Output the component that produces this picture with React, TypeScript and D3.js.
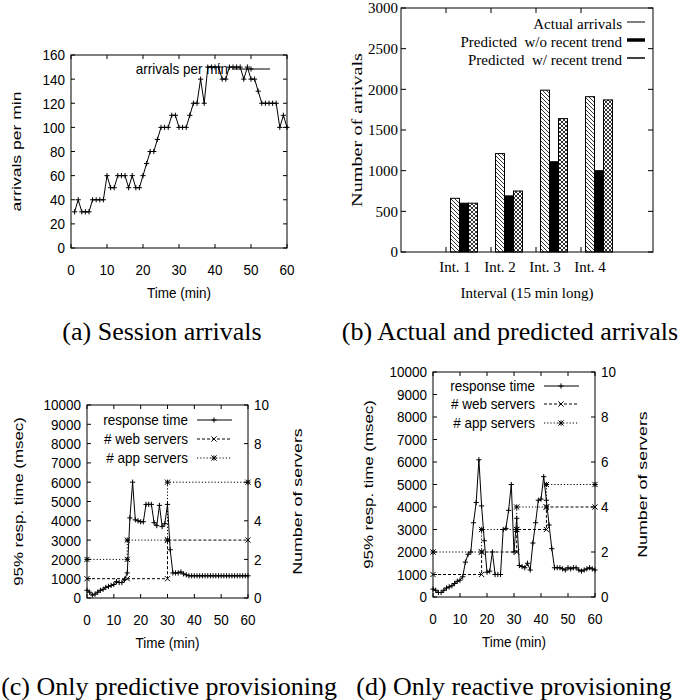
import { useEffect, useRef } from "react"
import * as d3 from "d3"

// (a) session arrivals, one value per minute (t = 1..60)
const arrivalsPerMin = [
  30, 40, 30, 30, 30, 40, 40, 40, 40, 60,
  50, 50, 60, 60, 60, 50, 60, 50, 50, 60,
  70, 80, 80, 90, 100, 100, 100, 110, 110, 100,
  100, 100, 110, 120, 120, 140, 120, 150, 150, 150,
  150, 140, 140, 150, 150, 150, 150, 140, 150, 140,
  140, 130, 120, 120, 120, 120, 120, 100, 110, 100,
]
const minuteTicks = [0, 10, 20, 30, 40, 50, 60]
const arrivalTicks = [0, 20, 40, 60, 80, 100, 120, 140, 160]

// (b) actual vs predicted arrivals per 15 min interval
const intervals = ["Int. 1", "Int. 2", "Int. 3", "Int. 4"]
const actualArrivals = [660, 1210, 1990, 1910]
const predictedNoTrend = [600, 690, 1110, 1000]
const predictedTrend = [600, 750, 1640, 1870]
const countTicks = [0, 500, 1000, 1500, 2000, 2500, 3000]
const barSeries = ["Actual arrivals", "Predicted  w/o recent trend", "Predicted  w/ recent trend"]

// (c) only predictive provisioning, response time per minute (t = 0..60)
const respPredictive = [
  400, 300, 150, 200, 300, 400, 450, 550, 600, 650, 700, 850, 800, 800, 950, 1300,
  4150, 6000, 4050, 4000, 3950, 3950, 4850, 4850, 4850, 3900, 3750, 4800, 3700, 3850, 4850, 2500,
  1300, 1300, 1300, 1350, 1250, 1200, 1150,
  1150, 1150, 1150, 1150, 1150, 1150, 1150, 1150, 1150, 1150, 1150,
  1150, 1150, 1150, 1150, 1150, 1150, 1150, 1150, 1150, 1150, 1150,
]
const webPredictive: [number, number][] = [[0, 1], [15, 1], [30, 1], [30, 3], [60, 3]]
const appPredictive: [number, number][] = [[0, 2], [15, 2], [15, 3], [30, 3], [30, 6], [60, 6]]

// (d) only reactive provisioning
const respReactive = [
  350, 300, 200, 200, 300, 400, 450, 500, 600, 700, 750, 900, 1550, 1900, 2000, 3300, 4200, 6100, 4050,
  2500, 1100, 1150, 2000, 1000, 1000, 1000, 3000, 3050, 3850, 5000, 2000,
  3500, 1400, 1350, 1300, 1500, 1200, 2400, 3300, 4300, 4350, 5350, 4300, 3200, 2150, 1300,
  1300, 1300, 1250, 1200, 1300, 1250, 1300, 1300, 1200, 1150, 1200, 1250, 1300, 1250, 1200,
]
const webReactive: [number, number][] = [[0, 1], [18, 1], [18, 2], [31, 2], [31, 3], [42, 3], [42, 4], [60, 4]]
const appReactive: [number, number][] = [[0, 2], [18, 2], [18, 3], [31, 3], [31, 4], [42, 4], [42, 5], [60, 5]]

const respTicks = [0, 1000, 2000, 3000, 4000, 5000, 6000, 7000, 8000, 9000, 10000]
const serverTicks = [0, 2, 4, 6, 8, 10]
const legendC = ["response time", "# web servers", "# app servers"]

const SANS = "'Liberation Sans', Arial, Helvetica, sans-serif"
const SERIF = "'Liberation Serif', 'Times New Roman', serif"

type G = d3.Selection<SVGGElement, unknown, null, undefined>

function put(g: G, x: number, y: number, s: string, o: any) {
  g.append("text")
    .attr("transform", `translate(${x},${y}) rotate(${o.rot || 0}) scale(${o.sx || 1},${o.sy || 1})`)
    .attr("text-anchor", o.anchor || "middle")
    .attr("dy", "0.35em")
    .attr("font-family", o.font)
    .attr("font-size", o.size)
    .style("white-space", "pre")
    .text(s)
}

const sansTick = { font: SANS, size: 13.5, sy: 1.15 }

function marker(g: G, x: number, y: number, type: string) {
  const r = 2.6
  const p = d3.path()
  if (type !== "x") {
    p.moveTo(x - r, y); p.lineTo(x + r, y)
    p.moveTo(x, y - r); p.lineTo(x, y + r)
  }
  if (type !== "+") {
    p.moveTo(x - r, y - r); p.lineTo(x + r, y + r)
    p.moveTo(x - r, y + r); p.lineTo(x + r, y - r)
  }
  g.append("path").attr("d", p.toString()).attr("stroke", "#000").attr("stroke-width", 1).attr("fill", "none")
}

function frame(g: G, x0: number, x1: number, y0: number, y1: number) {
  g.append("rect")
    .attr("x", x0).attr("y", y0).attr("width", x1 - x0).attr("height", y1 - y0)
    .attr("fill", "none").attr("stroke", "#000").attr("stroke-width", 1)
}

function tick(g: G, x1: number, y1: number, x2: number, y2: number, w = 1) {
  g.append("line").attr("x1", x1).attr("y1", y1).attr("x2", x2).attr("y2", y2)
    .attr("stroke", "#000").attr("stroke-width", w)
}

function responsePanel(g: G, L: any, resp: number[], web: [number, number][], app: [number, number][]) {
  const x = d3.scaleLinear().domain([0, 60]).range([L.x0, L.x1])
  const y = d3.scaleLinear().domain([0, 10000]).range([L.y1, L.y0])
  const y2 = d3.scaleLinear().domain([0, 10]).range([L.y1, L.y0])

  frame(g, L.x0, L.x1, L.y0, L.y1)
  respTicks.forEach(v => {
    tick(g, L.x0, y(v), L.x0 + 4, y(v))
    put(g, L.x0 - 6, y(v), String(v), { ...sansTick, anchor: "end" })
  })
  serverTicks.forEach(v => {
    tick(g, L.x1, y2(v), L.x1 - 4, y2(v))
    put(g, L.x1 + 6, y2(v), String(v), { ...sansTick, anchor: "start" })
  })
  minuteTicks.forEach(v => {
    tick(g, x(v), L.y1, x(v), L.y1 - 4)
    tick(g, x(v), L.y0, x(v), L.y0 + 4)
    put(g, x(v), L.y1 + 22, String(v), sansTick)
  })

  const lineR = d3.line<number>().x((_, i) => x(i)).y(d => y(d))
  const lineS = d3.line<[number, number]>().x(d => x(d[0])).y(d => y2(d[1]))

  g.append("path").attr("d", lineS(app)!).attr("fill", "none").attr("stroke", "#000")
    .attr("stroke-width", 1).attr("stroke-dasharray", "1.2,2")
  g.append("path").attr("d", lineS(web)!).attr("fill", "none").attr("stroke", "#000")
    .attr("stroke-width", 1).attr("stroke-dasharray", "3,2")
  g.append("path").attr("d", lineR(resp)!).attr("fill", "none").attr("stroke", "#000").attr("stroke-width", 1)

  resp.forEach((v, i) => marker(g, x(i), y(v), "+"))
  web.forEach(d => marker(g, x(d[0]), y2(d[1]), "x"))
  app.forEach(d => marker(g, x(d[0]), y2(d[1]), "*"))

  // legend
  const styles = [
    { dash: null, m: "+" },
    { dash: "3,2", m: "x" },
    { dash: "1.2,2", m: "*" },
  ]
  legendC.forEach((s, i) => {
    const ly = L.legY[i]
    put(g, L.legX, ly, s, { ...sansTick, anchor: "end" })
    const ln = g.append("line").attr("x1", L.legX + 9).attr("x2", L.legX + 44)
      .attr("y1", ly).attr("y2", ly).attr("stroke", "#000").attr("stroke-width", 1)
    if (styles[i].dash) ln.attr("stroke-dasharray", styles[i].dash)
    marker(g, L.legX + 26, ly, styles[i].m)
  })

  put(g, L.labL, (L.y0 + L.y1) / 2, "95% resp. time (msec)", { font: SANS, size: 13.5, rot: -90, sx: 1.25 })
  put(g, L.labR, (L.y0 + L.y1) / 2, "Number of servers", { font: SANS, size: 13.5, rot: -90, sx: 1.32 })
  put(g, (L.x0 + L.x1) / 2, L.y1 + 45, "Time (min)", sansTick)
}

export default function App() {
  const svgRef = useRef<SVGSVGElement>(null)

  useEffect(() => {
    const svg = d3.select(svgRef.current!)
    svg.selectAll("*").remove()
    const root = svg.append("g") as G

    // patterns for bars
    const defs = svg.append("defs")
    const diag = defs.append("pattern").attr("id", "diag").attr("patternUnits", "userSpaceOnUse")
      .attr("width", 4).attr("height", 4)
    diag.append("rect").attr("width", 4).attr("height", 4).attr("fill", "#fff")
    diag.append("path").attr("d", "M-1,-1L5,5M3,-1L5,1M-1,3L1,5").attr("stroke", "#000").attr("stroke-width", 0.8)
    const cross = defs.append("pattern").attr("id", "cross").attr("patternUnits", "userSpaceOnUse")
      .attr("width", 4).attr("height", 4)
    cross.append("rect").attr("width", 4).attr("height", 4).attr("fill", "#fff")
    cross.append("path").attr("d", "M-1,-1L5,5M3,-1L5,1M-1,3L1,5M-1,5L5,-1M-1,1L1,-1M3,5L5,3")
      .attr("stroke", "#000").attr("stroke-width", 0.8)

    // ---- (a) session arrivals
    {
      const g = root.append("g") as G
      const x0 = 71, x1 = 287, y0 = 55, y1 = 248
      const x = d3.scaleLinear().domain([0, 60]).range([x0, x1])
      const y = d3.scaleLinear().domain([0, 160]).range([y1, y0])
      frame(g, x0, x1, y0, y1)
      arrivalTicks.forEach(v => {
        tick(g, x0, y(v), x0 + 4, y(v))
        tick(g, x1, y(v), x1 - 4, y(v))
        put(g, x0 - 6, y(v), String(v), { ...sansTick, anchor: "end" })
      })
      minuteTicks.forEach(v => {
        tick(g, x(v), y1, x(v), y1 - 4)
        tick(g, x(v), y0, x(v), y0 + 4)
        put(g, x(v), y1 + 22, String(v), sansTick)
      })
      const line = d3.line<number>().x((_, i) => x(i + 1)).y(d => y(d))
      g.append("path").attr("d", line(arrivalsPerMin)!).attr("fill", "none").attr("stroke", "#000").attr("stroke-width", 1)
      arrivalsPerMin.forEach((v, i) => marker(g, x(i + 1), y(v), "+"))
      put(g, 228, 69, "arrivals per min", { ...sansTick, anchor: "end" })
      tick(g, 232, 69, 270, 69)
      marker(g, 251, 69, "+")
      put(g, 16, (y0 + y1) / 2, "arrivals per min", { font: SANS, size: 13.5, rot: -90, sx: 1.3 })
      put(g, (x0 + x1) / 2, 293, "Time (min)", sansTick)
      put(g, 162, 331, "(a) Session arrivals", { font: SERIF, size: 26 })
    }

    // ---- (b) actual and predicted arrivals
    {
      const g = root.append("g") as G
      const x0 = 401, x1 = 653, y0 = 8, y1 = 252
      const x = d3.scaleLinear().domain([0, 5.6]).range([x0, x1])
      const y = d3.scaleLinear().domain([0, 3000]).range([y1, y0])
      const bw = x(0.2) - x(0)
      const series = [actualArrivals, predictedNoTrend, predictedTrend]
      const fills = ["url(#diag)", "#000", "url(#cross)"]
      series.forEach((vals, k) => {
        g.append("g").selectAll("rect").data(vals).join("rect")
          .attr("x", (_, i) => x(i + 1 + 0.2 * (k + 1)) - bw / 2)
          .attr("y", d => y(d))
          .attr("width", bw)
          .attr("height", d => y(0) - y(d))
          .attr("fill", fills[k])
          .attr("stroke", "#000")
          .attr("stroke-width", 1)
      })
      frame(g, x0, x1, y0, y1)
      countTicks.forEach(v => {
        tick(g, x0, y(v), x0 + 5, y(v))
        tick(g, x1, y(v), x1 - 5, y(v))
        put(g, x0 - 3, y(v), String(v), { font: SERIF, size: 15, anchor: "end" })
      })
      intervals.forEach((s, i) => {
        tick(g, x(i + 1), y1, x(i + 1), y1 - 5)
        tick(g, x(i + 1), y0, x(i + 1), y0 + 5)
        put(g, x(i + 1.2), 267, s, { font: SERIF, size: 15 })
      })
      const legY = [24, 42, 60]
      const legW = [1, 3.5, 1.5]
      barSeries.forEach((s, i) => {
        put(g, 622, legY[i], s, { font: SERIF, size: 15, anchor: "end" })
        tick(g, 627, legY[i] - 2, 645, legY[i] - 2, legW[i])
      })
      put(g, 357, (y0 + y1) / 2, "Number of arrivals", { font: SERIF, size: 15, rot: -90, sx: 1.35 })
      put(g, 527, 293, "Interval (15 min long)", { font: SERIF, size: 15 })
      put(g, 510, 331, "(b) Actual and predicted arrivals", { font: SERIF, size: 26 })
    }

    // ---- (c) only predictive provisioning
    responsePanel(root.append("g") as G, {
      x0: 87, x1: 248, y0: 405, y1: 598, legX: 188, legY: [420, 439, 458], labL: 18, labR: 297,
    }, respPredictive, webPredictive, appPredictive)
    put(root, 169, 686, "(c) Only predictive provisioning", { font: SERIF, size: 26 })

    // ---- (d) only reactive provisioning
    responsePanel(root.append("g") as G, {
      x0: 433, x1: 595, y0: 372, y1: 597, legX: 535, legY: [386, 404, 423], labL: 368, labR: 642,
    }, respReactive, webReactive, appReactive)
    put(root, 514, 686, "(d) Only reactive provisioning", { font: SERIF, size: 26 })
  }, [])

  return (
    <svg
      ref={svgRef}
      width={683}
      height={700}
      style={{ position: "absolute", left: 0, top: 0, background: "#fff" }}
    />
  )
}
